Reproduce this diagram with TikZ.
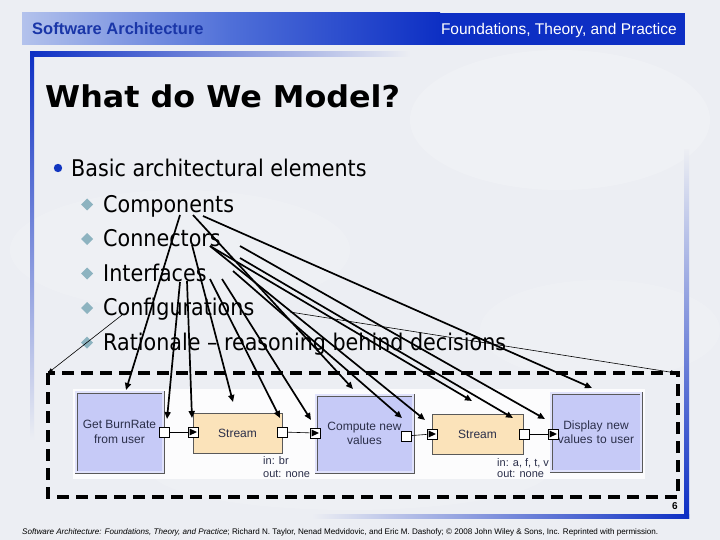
\documentclass[tikz,border=0pt]{standalone}
\usepackage{fontspec}
\setmainfont{Liberation Sans}
\newfontfamily\titlefont[FakeStretch=1.06]{DejaVu Sans}
\newfontfamily\bodyfont{DejaVu Sans Condensed}
\usetikzlibrary{arrows.meta,shapes.geometric}
\definecolor{bgc}{HTML}{ECEEF3}
\definecolor{hdrdark}{HTML}{0D2FC4}
\definecolor{hdrmid}{HTML}{4F6FD8}
\definecolor{hdrlight}{HTML}{B3C2EC}
\definecolor{hdrtext}{HTML}{1A36A8}
\definecolor{compfill}{HTML}{C6CAF7}
\definecolor{strfill}{HTML}{FBE3BA}
\definecolor{diam}{HTML}{8DB3C0}
\definecolor{dtext}{HTML}{2B2F4A}
\definecolor{bulblue}{HTML}{1236C0}
\begin{document}
\begin{tikzpicture}[x=1pt,y=-1pt,
  arr/.style={line width=1.7pt,-{Triangle[length=7pt,width=6pt]}},
  thinarr/.style={line width=0.6pt,-{Triangle[length=5pt,width=4pt]}},
  comp/.style={draw=black!65,double=compfill!55!white,double distance=1.6pt,line width=0.7pt,fill=compfill,inner sep=0pt,align=center,text=dtext,font=\fontsize{12}{14.5}\selectfont},
  strm/.style={draw=black!65,line width=0.8pt,fill=strfill,inner sep=0pt,text=dtext,font=\fontsize{12}{14.5}\selectfont},
  port/.style={draw=black,line width=0.6pt,fill=white,minimum size=10pt,inner sep=0pt},
  wire/.style={line width=0.6pt},
  bul/.style={anchor=base west,font=\bodyfont\fontsize{23}{23}\selectfont},
  lbl/.style={anchor=base west,text=dtext,font=\fontsize{11}{12}\selectfont,inner sep=0pt}
]
\useasboundingbox (0,0) rectangle (720,540);
\fill[bgc] (0,0) rectangle (720,540);
% soft clouds
\fill[white,opacity=0.18] (560,120) ellipse (150 and 70);
\fill[white,opacity=0.15] (180,250) ellipse (170 and 60);
\fill[white,opacity=0.15] (600,330) ellipse (120 and 50);
\fill[white,opacity=0.12] (350,470) ellipse (200 and 40);
% header
\shade[left color=hdrlight,right color=hdrdark,middle color=hdrmid] (22,13) rectangle (440,45);
\fill[hdrdark] (440,13) rectangle (685,45);
\node[anchor=base west,inner sep=0pt,font=\bfseries\fontsize{16.5}{16}\selectfont,text=hdrtext] (ht1) at (32,35) {Software Architecture};
\node[anchor=base east,inner sep=0pt,font=\fontsize{15.5}{16}\selectfont,text=white] (ht2) at (677,35) {Foundations, Theory, and Practice};
% frame bars
\shade[left color=hdrdark,right color=bgc] (30,52) rectangle (410,57);
\shade[top color=hdrdark,bottom color=bgc] (30,52) rectangle (34,440);
\shade[top color=bgc,bottom color=hdrdark] (684,150) rectangle (689,518);
\shade[left color=bgc,right color=hdrdark] (312,514) rectangle (689,518);
% title
\node[anchor=base west,inner sep=0pt,font=\titlefont\bfseries\fontsize{30}{30}\selectfont] (title) at (45,108) {What do We Model?};
% bullets
\fill[bulblue] (58,168) circle (4.2);
\node[bul,inner sep=0pt] (b0) at (71,177) {Basic architectural elements};
\foreach \yy/\nm/\tx in {212/b1/Components,246.5/b2/Connectors,281/b3/Interfaces,315.5/b4/Configurations,350/b5/{Rationale – reasoning behind decisions}}{
  \fill[diam] (87,\yy-13.5) -- (93,\yy-7.5) -- (87,\yy-1.5) -- (81,\yy-7.5) -- cycle;
  \node[bul,inner sep=0pt] (\nm) at (103,\yy) {\tx};
}
% dashed frame
\draw[line width=3.2pt,dash pattern=on 12pt off 7pt] (48,373) rectangle (678,497);
% diagram backdrop
\fill[white,opacity=0.85] (73,389) rectangle (645,479);
% components and connectors
\node[comp,minimum width=87pt,minimum height=80pt] (gbr) at (119.5,432) {Get BurnRate\\from user};
\node[strm,minimum width=89pt,minimum height=40pt] (s1) at (237.5,433) {Stream};
\node[comp,minimum width=97pt,minimum height=77pt] (cmp) at (364.5,433.5) {Compute new\\values};
\node[strm,minimum width=91pt,minimum height=40pt] (s2) at (477.5,434) {Stream};
\node[comp,minimum width=86pt,minimum height=78pt,text width=90pt] (dsp) at (596,432) {Display new\\values to user};
% ports
\node[port] (p1) at (164,432) {};
\node[port] (p2) at (193,432) {};
\node[port] (p3) at (282,432) {};
\node[port] (p4) at (315,433) {};
\node[port] (p5) at (406,436) {};
\node[port] (p6) at (432,434) {};
\node[port] (p7) at (524,434) {};
\node[port] (p8) at (553,434) {};
\foreach \p in {p2,p4,p6,p8}{
  \fill ([xshift=-3.5pt,yshift=3.5pt]\p.center) -- ([xshift=4pt]\p.center) -- ([xshift=-3.5pt,yshift=-3.5pt]\p.center) -- cycle;
}
\draw[wire] (p1) -- (p2);
\draw[wire] (p3) -- (p4);
\draw[wire] (p5) -- (p6);
\draw[wire] (p7) -- (p8);
\node[lbl,align=left] (l1) at (263,464) {in: br};
\node[lbl] (l2) at (263,477) {out: none};
\node[lbl] (l3) at (497,466) {in: a, f, t, v};
\node[lbl] (l4) at (497,477) {out: none};
% start coordinates
\coordinate (sa) at (180,215);
\coordinate (sb) at (193,215);
\coordinate (sc) at (203,216);
\coordinate (sd) at (192,245);
\coordinate (se) at (210,246);
\coordinate (sf) at (240,246);
\coordinate (sg) at (240,258);
\coordinate (sh) at (233,271);
\coordinate (si) at (222,279);
\coordinate (sj) at (210,279);
\coordinate (sk) at (187,281);
\coordinate (sl) at (180,282);
\coordinate (sm) at (122,315);
\coordinate (sn) at (290,312);
% target coordinates
\coordinate (ta) at (126,390);
\coordinate (tb) at (353,389);
\coordinate (tc) at (592,388);
\coordinate (td) at (233,402);
\coordinate (te) at (472,401);
\coordinate (tf) at (167,419);
\coordinate (tg) at (192,418);
\coordinate (th) at (280,418);
\coordinate (ti) at (311,420);
\coordinate (tj) at (402,418);
\coordinate (tk) at (425,420);
\coordinate (tl) at (513,418);
\coordinate (tm) at (545,419);
\coordinate (tn) at (48,373);
\coordinate (to) at (676,373);
% arrows
\draw[arr] (sa) -- (ta);
\draw[arr] (sb) -- (tb);
\draw[arr] (sc) -- (tc);
\draw[arr] (sd) -- (td);
\draw[arr] (se) -- (te);
\draw[arr] (se) -- (tk);
\draw[arr] (sf) -- (tm);
\draw[arr] (sg) -- (tl);
\draw[arr] (sh) -- (tj);
\draw[arr] (si) -- (ti);
\draw[arr] (sj) -- (th);
\draw[arr] (sk) -- (tg);
\draw[arr] (sl) -- (tf);
\draw[thinarr] (sm) -- (tn);
\draw[thinarr] (sn) -- (to);
% page number and footnote
\node[anchor=base east,inner sep=0pt,font=\bfseries\fontsize{10}{10}\selectfont] (pg) at (678,509) {6};
\node[anchor=base west,inner sep=0pt] (fn) at (22,534) {\resizebox{636pt}{!}{\fontsize{7.3}{8}\selectfont\textit{Software Architecture: Foundations, Theory, and Practice}; Richard N. Taylor, Nenad Medvidovic, and Eric M. Dashofy; \copyright{} 2008 John Wiley \& Sons, Inc. Reprinted with permission.}};
\end{tikzpicture}
\end{document}
